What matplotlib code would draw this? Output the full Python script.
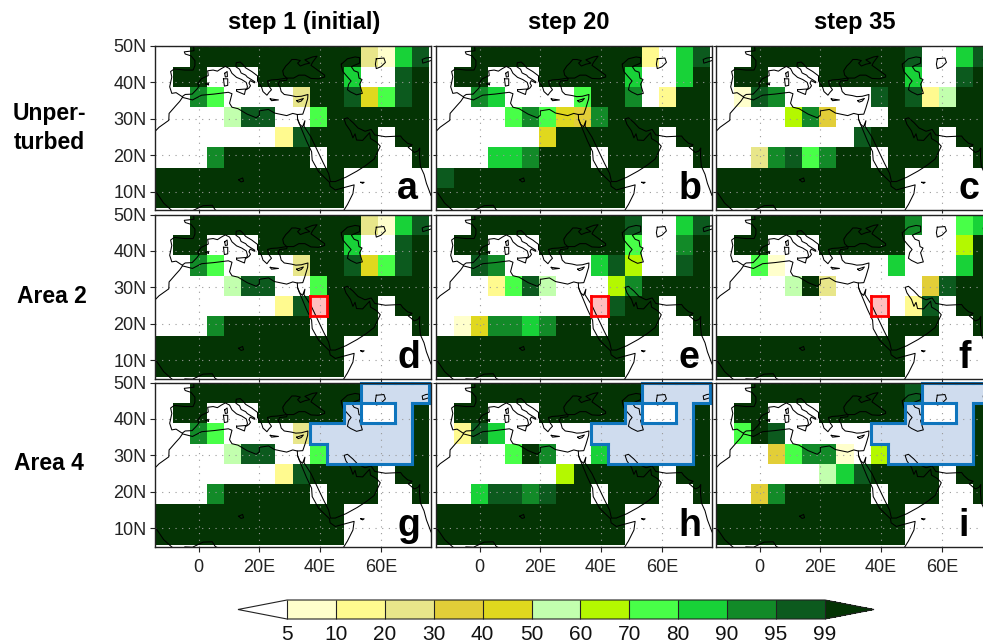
import matplotlib
matplotlib.use("Agg")
import matplotlib.pyplot as plt
import numpy as np
from matplotlib.colors import BoundaryNorm, ListedColormap
from matplotlib.patches import Rectangle

plt.rcParams['font.family'] = ['Liberation Sans', 'DejaVu Sans']

W, H = 983, 642

lons = [-11.25, -5.625, 0, 5.625, 11.25, 16.875, 22.5, 28.125, 33.75, 39.375,
        45, 50.625, 56.25, 61.875, 67.5, 73.125]
lats = [47.07, 41.54, 36.0, 30.46, 24.92, 19.39, 13.85, 8.31]

levels = [5, 10, 20, 30, 40, 50, 60, 70, 80, 90, 95, 99]
colors = ['#FFFFCC', '#FFFA8F', '#E8E68A', '#E2CE38', '#E0D81E', '#C2FFAE',
          '#B4F800', '#48FF48', '#18D238', '#128A28', '#0C5A1E']
under_color = '#FFFFFF'
over_color = '#043404'

titles = ['step 1 (initial)', 'step 20', 'step 35']
row_names = ['Unper-\nturbed', 'Area 2', 'Area 4']
letters = ['a', 'b', 'c', 'd', 'e', 'f', 'g', 'h', 'i']

panel_a = [
    [0, 0, 100, 100, 100, 100, 100, 100, 100, 100, 100, 100, 25, 7, 85, 97],
    [0, 100, 100, 0, 0, 0, 100, 100, 100, 100, 100, 85, 0, 0, 97, 100],
    [0, 0, 92, 75, 0, 0, 0, 0, 25, 100, 100, 97, 45, 75, 97, 100],
    [0, 0, 0, 0, 55, 97, 97, 0, 0, 75, 100, 100, 100, 100, 100, 100],
    [0, 0, 0, 0, 0, 0, 0, 15, 97, 100, 100, 100, 100, 0, 100, 100],
    [0, 0, 0, 92, 100, 100, 100, 100, 100, 0, 100, 100, 100, 0, 0, 100],
    [100, 100, 100, 100, 100, 100, 100, 100, 100, 100, 100, 0, 0, 0, 0, 0],
    [100, 100, 100, 100, 100, 100, 100, 100, 100, 100, 100, 0, 0, 0, 0, 0],
]
panel_b = [
    [0, 0, 100, 100, 100, 100, 100, 100, 100, 100, 100, 100, 15, 0, 85, 97],
    [0, 100, 100, 0, 0, 0, 100, 100, 100, 100, 100, 85, 0, 0, 85, 100],
    [0, 0, 92, 85, 0, 0, 0, 0, 75, 100, 100, 92, 0, 15, 100, 100],
    [0, 0, 0, 0, 75, 92, 75, 45, 35, 92, 100, 100, 100, 100, 100, 100],
    [0, 0, 0, 0, 0, 0, 45, 100, 100, 100, 100, 100, 100, 0, 100, 100],
    [0, 0, 0, 85, 85, 92, 100, 100, 100, 0, 100, 100, 100, 0, 0, 100],
    [97, 100, 100, 100, 100, 100, 100, 100, 100, 100, 100, 0, 0, 0, 0, 0],
    [100, 100, 100, 100, 100, 100, 100, 100, 100, 100, 100, 0, 0, 0, 0, 0],
]
panel_c = [
    [0, 0, 100, 100, 100, 100, 100, 100, 100, 100, 100, 97, 0, 0, 85, 97],
    [0, 100, 100, 0, 0, 0, 100, 100, 100, 100, 100, 85, 0, 0, 97, 100],
    [0, 7, 97, 92, 0, 0, 0, 0, 0, 97, 100, 97, 15, 55, 100, 100],
    [0, 0, 0, 0, 65, 92, 35, 0, 0, 0, 100, 100, 100, 100, 100, 100],
    [0, 0, 0, 0, 0, 0, 0, 0, 97, 100, 100, 100, 100, 0, 100, 100],
    [0, 0, 25, 92, 97, 75, 92, 100, 100, 0, 100, 100, 100, 0, 0, 100],
    [100, 100, 100, 100, 100, 100, 100, 100, 100, 100, 100, 0, 0, 0, 0, 0],
    [100, 100, 100, 100, 100, 100, 100, 100, 100, 100, 100, 0, 0, 0, 0, 0],
]
panel_e = [
    [0, 0, 100, 100, 100, 100, 100, 100, 100, 100, 100, 97, 0, 0, 85, 97],
    [0, 100, 100, 0, 0, 0, 100, 100, 100, 100, 100, 75, 0, 0, 92, 100],
    [0, 0, 97, 92, 0, 0, 0, 0, 0, 85, 97, 65, 0, 0, 97, 100],
    [0, 0, 0, 15, 75, 97, 55, 0, 0, 0, 65, 92, 100, 100, 100, 100],
    [0, 0, 0, 0, 0, 0, 0, 0, 0, 0, 97, 100, 100, 0, 100, 100],
    [0, 7, 45, 92, 92, 85, 92, 100, 100, 0, 100, 100, 100, 0, 0, 100],
    [100, 100, 100, 100, 100, 100, 100, 100, 100, 100, 100, 0, 0, 0, 0, 0],
    [100, 100, 100, 100, 100, 100, 100, 100, 100, 100, 100, 0, 0, 0, 0, 0],
]
panel_f = [
    [0, 0, 100, 100, 100, 100, 100, 100, 100, 100, 100, 92, 0, 0, 75, 85],
    [0, 100, 100, 0, 0, 0, 100, 100, 100, 100, 100, 0, 0, 0, 65, 100],
    [0, 0, 75, 7, 0, 0, 0, 0, 0, 0, 85, 0, 0, 0, 85, 100],
    [0, 0, 0, 0, 55, 100, 25, 0, 0, 0, 0, 0, 35, 97, 100, 100],
    [0, 0, 0, 0, 0, 0, 0, 0, 0, 0, 0, 15, 97, 0, 100, 100],
    [0, 0, 0, 0, 0, 0, 0, 0, 0, 0, 100, 100, 100, 0, 0, 100],
    [100, 100, 100, 100, 100, 100, 100, 100, 100, 100, 100, 0, 0, 0, 0, 0],
    [100, 100, 100, 100, 100, 100, 100, 100, 100, 100, 100, 0, 0, 0, 0, 0],
]
panel_h = [
    [0, 0, 100, 100, 100, 100, 100, 100, 100, 100, 100, 100, 100, 100, 100, 100],
    [0, 100, 100, 0, 0, 0, 100, 100, 100, 100, 100, 100, 0, 0, 100, 100],
    [0, 15, 97, 85, 0, 0, 0, 0, 0, 100, 100, 100, 100, 100, 100, 100],
    [0, 0, 0, 0, 75, 100, 92, 0, 0, 85, 100, 100, 100, 100, 100, 100],
    [0, 0, 0, 0, 0, 0, 0, 65, 100, 100, 100, 100, 100, 0, 100, 100],
    [0, 0, 85, 97, 97, 92, 97, 100, 100, 0, 100, 100, 100, 0, 0, 100],
    [100, 100, 100, 100, 100, 100, 100, 100, 100, 100, 100, 0, 0, 0, 0, 0],
    [100, 100, 100, 100, 100, 100, 100, 100, 100, 100, 100, 0, 0, 0, 0, 0],
]
panel_i = [
    [0, 0, 100, 100, 100, 100, 100, 100, 100, 100, 100, 97, 100, 100, 100, 100],
    [0, 100, 100, 0, 0, 0, 100, 100, 100, 100, 100, 100, 0, 0, 100, 100],
    [0, 75, 100, 97, 0, 0, 0, 0, 0, 100, 100, 100, 100, 100, 100, 100],
    [0, 0, 0, 35, 75, 92, 92, 7, 0, 65, 100, 100, 100, 100, 100, 100],
    [0, 0, 0, 0, 0, 0, 55, 85, 97, 100, 100, 100, 100, 0, 100, 100],
    [0, 0, 35, 92, 100, 100, 100, 100, 100, 0, 100, 100, 100, 0, 0, 100],
    [100, 100, 100, 100, 100, 100, 100, 100, 100, 100, 100, 0, 0, 0, 0, 0],
    [100, 100, 100, 100, 100, 100, 100, 100, 100, 100, 100, 0, 0, 0, 0, 0],
]
panels = [panel_a, panel_b, panel_c, panel_a, panel_e, panel_f, panel_a, panel_h, panel_i]

# perturbed cells as (row, column) in the grid above
area2_cells = [(4, 9)]
area4_cells = [(0, 12), (0, 13), (0, 14), (0, 15), (1, 11), (1, 14),
               (2, 9), (2, 10), (2, 11), (2, 12), (2, 13), (2, 14),
               (3, 10), (3, 11), (3, 12), (3, 13), (3, 14)]

coasts = [
    [(-1.6, 50), (-1.6, 49.6), (-1.5, 48.7), (-4.7, 48.4), (-4.4, 47.8), (-2.5, 47.3), (-1.2, 46), (-1.2, 44.6),
     (-1.8, 43.4), (-4.5, 43.4), (-8, 43.7), (-9.2, 43), (-8.8, 41.5), (-9.5, 38.8), (-8.8, 37), (-7.4, 37.2),
     (-6.3, 36.6), (-5.4, 36.1), (-4.4, 36.7), (-2.1, 36.8), (-0.5, 38.2), (0.2, 39), (-0.3, 39.6), (0.9, 41),
     (3.2, 41.9), (3, 43.2), (4.8, 43.4), (6.2, 43.1), (7.5, 43.8), (8.8, 44.4), (10.2, 43.8), (11, 42.5),
     (12.5, 41.4), (14.2, 40.8), (15.7, 40), (16.1, 38.8), (15.7, 38), (16.6, 38.5), (17.1, 39.1), (16.6, 39.8),
     (17, 40.5), (18.4, 39.9), (18.5, 40.2), (16, 41.5), (15.5, 42), (14, 42.6), (13.5, 43.6), (12.3, 44.3),
     (12.4, 45.4), (13.7, 45.6), (14.5, 45), (15.5, 44), (17.5, 43), (19.4, 41.8), (19.4, 40.4), (20.7, 38.8),
     (21.2, 37.5), (22.5, 36.5), (23.2, 37.3), (24, 38), (23, 39.2), (22.7, 40.4), (24, 40.7), (26, 40.8),
     (27.5, 41), (29, 41.2), (28, 42), (27.7, 43.2), (28.7, 44.5), (29.7, 45.3), (30.7, 46.3), (32, 46.3),
     (33.5, 46), (32.6, 45.3), (33.5, 44.5), (35, 45), (36.6, 45.3), (35, 46.2), (37.5, 47), (39, 47.2),
     (37.5, 45.5), (37, 44.7), (39, 43.5), (41.5, 42), (41.5, 41.5), (39.5, 41), (37, 41.1), (35, 42), (33, 42),
     (31.3, 41.2), (29.2, 41.2), (29, 40.6), (26.7, 40.4), (26.2, 39.5), (26.8, 38.8), (27.2, 37.5), (28.2, 36.7),
     (30.5, 36.4), (32, 36.1), (33.8, 36.2), (36, 36.7), (35.9, 35.5), (35, 33), (34.3, 31.3), (32.5, 31.2),
     (31, 31.5), (29, 30.9), (25, 31.6), (23, 32.6), (20, 32.2), (20, 31), (19, 30.3), (16, 31.3), (13, 32.8),
     (11, 33.2), (10.2, 34.3), (11, 36.9), (9.8, 37.3), (5, 36.8), (1, 36.5), (-2, 35.2), (-5.3, 35.9),
     (-6.2, 34.8), (-7.5, 33.6), (-9.7, 31.5), (-9.8, 29.6), (-13, 27.7), (-15, 26)],
    [(-15, 11), (-13.2, 9), (-11.5, 6.9), (-9, 5), (-8, 4.4)],
    [(-4.5, 4.9), (-2, 4.8), (0, 5.6), (1.5, 6.2), (4.5, 6.3), (5.5, 5), (7, 4.4)],
    [(32.5, 31.2), (32.6, 29.9), (33.6, 27.8), (35.5, 24), (37.2, 21), (37.4, 18.7), (39.5, 15.5), (43.1, 12.6),
     (43.3, 11.5), (45, 10.5), (51.2, 11.9), (50.8, 9.5), (49, 6.5), (47.5, 4.5)],
    [(32.6, 29.9), (33.2, 28.6), (34.2, 27.8), (35, 29.5), (34.7, 28), (37, 25), (39, 21.5), (41, 18), (42.8, 15),
     (43.4, 12.8), (45, 12.8), (48.5, 14), (52.2, 15.7), (55, 17.2), (57.8, 19), (59.8, 22.5), (58.6, 23.6),
     (56.6, 24.6), (56.3, 26.2), (55.3, 25.3), (54, 24.1), (52, 24.2), (51.5, 25.9), (50.8, 24.8), (50, 26.7),
     (48.5, 28.5), (47.9, 30), (49, 30.3), (50.8, 29), (52.5, 27.5), (54.8, 26.6), (56.8, 27.1), (58, 25.6),
     (61.5, 25.1), (66.5, 25.3), (67.2, 24.5), (68.8, 23.3), (70.3, 22.9), (69, 22.2), (71, 20.8), (72.2, 21.2),
     (72.8, 22), (72.7, 20), (73, 17), (74.2, 14.8), (75, 12.3), (76.5, 9)],
    [(47, 45), (49, 46.5), (51.5, 47), (53, 46.8), (53, 45.3), (51, 44.6), (50.3, 44.3), (51.2, 43.2), (52.5, 42.8),
     (52.8, 41.2), (53.8, 40.8), (53, 39.5), (53.9, 37), (52, 36.6), (50, 37.4), (49, 38), (49.4, 39.5), (50.2, 40.4),
     (48.7, 41.8), (47.5, 43), (47, 44.5), (47, 45)],
    [(58.5, 46.5), (61, 46.7), (61.5, 45.5), (60, 44.3), (58.5, 43.8), (58.2, 45), (58.5, 46.5)],
    [(76.8, 46.9), (74.8, 46.7), (73.6, 46.3), (73.8, 45.3), (75, 45.6), (76.8, 46.1)],
    [(12.5, 38), (15.5, 38.2), (15.1, 36.7), (12.5, 37.6), (12.5, 38)],
    [(8.2, 41), (9.6, 41), (9.6, 39.2), (8.5, 39), (8.2, 41)],
    [(8.6, 42.5), (9.4, 43), (9.5, 41.6), (8.8, 41.5), (8.6, 42.5)],
    [(23.6, 35.5), (26.3, 35.2), (24, 35), (23.6, 35.5)],
    [(32.3, 35), (34.5, 35.6), (33.8, 34.9), (32.8, 34.6), (32.3, 35)],
    [(53.4, 12.6), (54.5, 12.6), (54, 12.3), (53.4, 12.6)],
    [(13.2, 13.3), (14.5, 13.8), (14.8, 12.9), (14, 12.7), (13.2, 13.3)],
    [(2.4, 39.6), (3.2, 39.9), (3.3, 39.3), (2.4, 39.6)],
]

lon_edges = np.append(np.array(lons) - 2.8125, lons[-1] + 2.8125)
lat_edges = np.append(np.array(lats) + 2.77, lats[-1] - 2.77)

cmap = ListedColormap(colors)
cmap.set_under(under_color)
cmap.set_over(over_color)
norm = BoundaryNorm(levels, cmap.N)


def px_axes(fig, left, top, right, bottom):
    return fig.add_axes([left / W, 1 - bottom / H, (right - left) / W, (bottom - top) / H])


def cell_box(ax, cell, **kw):
    r, c = cell
    ax.add_patch(Rectangle((lon_edges[c], lat_edges[r + 1]), lon_edges[c + 1] - lon_edges[c],
                           lat_edges[r] - lat_edges[r + 1], **kw))


def draw_area(ax, cells, fill, edge, lw):
    for cell in cells:
        cell_box(ax, cell, facecolor=fill, edgecolor='none', zorder=2)
    # outline only where a cell borders a cell outside the area
    for r, c in cells:
        x0, x1 = lon_edges[c], lon_edges[c + 1]
        y0, y1 = lat_edges[r + 1], lat_edges[r]
        sides = [((r - 1, c), [x0, x1], [y1, y1]), ((r + 1, c), [x0, x1], [y0, y0]),
                 ((r, c - 1), [x0, x0], [y0, y1]), ((r, c + 1), [x1, x1], [y0, y1])]
        for other, xs, ys in sides:
            if other not in cells:
                ax.plot(xs, ys, color=edge, lw=lw, solid_capstyle='projecting', zorder=5, clip_on=False)


fig = plt.figure(figsize=(W / 100, H / 100), dpi=100)

col_px = [(154.5, 431), (435.5, 712), (715.5, 992)]
row_px = [(46, 210), (214.5, 378.5), (382.5, 546.5)]

mesh = None
for n, data in enumerate(panels):
    i, j = n // 3, n % 3
    ax = px_axes(fig, col_px[j][0], row_px[i][0], col_px[j][1], row_px[i][1])
    mesh = ax.pcolormesh(lon_edges, lat_edges, np.array(data), cmap=cmap, norm=norm, zorder=1)
    if i == 1:
        draw_area(ax, area2_cells, '#FFBEBE', '#FF0000', 2.0)
    if i == 2:
        draw_area(ax, area4_cells, '#CFDCEE', '#0F75BD', 2.2)
    for coast in coasts:
        xy = np.array(coast)
        ax.plot(xy[:, 0], xy[:, 1], color='k', lw=0.75, zorder=4)
    ax.set_xlim(-14.5, 76.5)
    ax.set_ylim(5, 50)
    ax.set_xticks([0, 20, 40, 60])
    ax.set_yticks([10, 20, 30, 40, 50])
    ax.grid(True, color='#9a9a9a', lw=0.8, linestyle=(0, (1, 5)), zorder=3)
    ax.set_axisbelow(False)
    ax.tick_params(axis='both', length=2.5, width=0.8, color='#222222')
    if j == 0:
        ax.set_yticklabels(['10N', '20N', '30N', '40N', '50N'], fontsize=13, color='#222222')
        ax.tick_params(axis='y', length=3.8, pad=2)
    else:
        ax.set_yticklabels([])
    if i == 2:
        ax.set_xticklabels(['0', '20E', '40E', '60E'], fontsize=13, color='#222222')
        ax.tick_params(axis='x', length=3.8, pad=5)
    else:
        ax.set_xticklabels([])
    for sp in ax.spines.values():
        sp.set_linewidth(1.0)
        sp.set_color('#222222')
        sp.set_zorder(6)
    ax.text(0.878, 10.5 / 164, letters[n], transform=ax.transAxes, fontsize=27, fontweight='bold',
            ha='left', va='baseline', color='k', zorder=7)

for name, x in zip(titles, [304, 569, 855]):
    fig.text(x / W, 1 - 23 / H, name, fontsize=17, fontweight='bold', ha='center', va='center')
for name, x, y in zip(row_names, [49, 52, 49], [128, 296, 464]):
    fig.text(x / W, 1 - y / H, name, fontsize=16.5, fontweight='bold', ha='center', va='center', linespacing=1.3)

# the axes box of a colorbar includes its two triangles
cax = px_axes(fig, 238, 600, 874, 619)
cb = fig.colorbar(mesh, cax=cax, orientation='horizontal', extend='both', extendfrac=0.0912,
                  spacing='uniform', drawedges=True, ticks=levels)
cb.ax.tick_params(length=0, labelsize=15, pad=4, labelcolor='#111111')
cb.ax.set_xticklabels([str(v) for v in levels])
cb.outline.set_linewidth(0.8)
cb.outline.set_edgecolor('#222222')
cb.dividers.set_linewidth(0.8)
cb.dividers.set_color('#222222')

fig.savefig('out.png', dpi=100)
